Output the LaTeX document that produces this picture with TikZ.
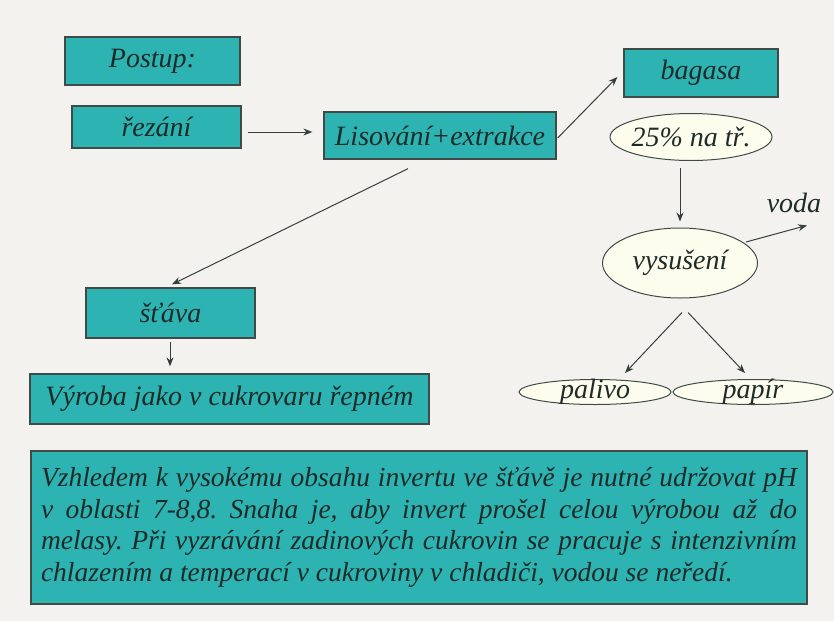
\documentclass[tikz,border=0pt]{standalone}
\usepackage{fontspec}
\setmainfont{Liberation Serif}[
  UprightFont={Liberation Serif},
  ItalicFont={Liberation Serif Italic},
  BoldFont={Liberation Serif Bold}]
\frenchspacing
\usetikzlibrary{shapes.geometric,arrows.meta,calc}
\definecolor{paper}{HTML}{F3F2EE}
\definecolor{teal}{HTML}{2DB3B1}
\definecolor{ink}{HTML}{1E2B28}
\definecolor{ivory}{HTML}{FDFDEE}
\newcommand{\lbl}{\rmfamily\itshape}
\tikzset{
  stepbox/.style={draw=ink!85, line width=1.3pt, fill=teal, text=ink, inner sep=0pt,
    font=\fontsize{28}{32}\selectfont\lbl},
  oval/.style={ellipse, draw=ink!85, line width=1pt, fill=ivory, inner sep=0pt},
  ovaltext/.style={text=ink, font=\fontsize{28}{32}\selectfont\lbl},
  flow/.style={draw=ink!90, line width=1pt, -{Stealth[length=9pt,width=7pt]}},
}
\begin{document}
\begin{tikzpicture}[x=1pt,y=-1pt]
  \useasboundingbox[fill=paper] (0,0) rectangle (834,621);

  % process boxes
  \node[stepbox, minimum width=175, minimum height=48] (postup) at (152.5,61) {Postup:};
  \node[stepbox, minimum width=169, minimum height=42] (rezani) at (156.5,127) {řezání};
  \node[stepbox, minimum width=232, minimum height=47] (lis) at (440,135.5) {Lisování+extrakce};
  \node[stepbox, minimum width=154, minimum height=48] (bagasa) at (701,73) {bagasa};
  \node[stepbox, minimum width=169, minimum height=50] (stava) at (170.5,313) {šťáva};
  \node[stepbox, minimum width=399, minimum height=50] (vyroba) at (229.5,399) {Výroba jako v cukrovaru řepném};

  % ovals
  \node[oval, minimum width=162, minimum height=47] (pct) at (691,137) {};
  \node[ovaltext] at (pct) {25\% na tř.};
  \node[oval, minimum width=155, minimum height=70] (vysus) at (680,263) {};
  \node[ovaltext] at (vysus) {vysušení};
  \node[oval, minimum width=152, minimum height=25] (palivo) at (595,392) {};
  \node[ovaltext] at (palivo) {palivo};
  \node[oval, minimum width=160, minimum height=25] (papir) at (753,392) {};
  \node[ovaltext] at (papir) {papír};

  \node[ovaltext] (voda) at (794,203) {voda};

  % note
  \node[stepbox, minimum width=776, minimum height=153, text width=756, align=justify,
        font=\fontsize{27.5}{31.7}\selectfont\lbl] (note) at (419,527.5)
  {Vzhledem k vysokému obsahu invertu ve šťávě je nutné udržovat pH\linebreak
   v oblasti 7-8,8. Snaha je, aby invert prošel celou výrobou až do\linebreak
   melasy. Při vyzrávání zadinových cukrovin se pracuje s intenzivním\linebreak
   chlazením a temperací v cukroviny v chladiči, vodou se neředí.};

  % connectors
  \draw[flow] ($(rezani.east)+(6,5)$) -- ($(lis.west)+(-11,-3.5)$);
  \draw[flow] ($(lis.east)+(1,2.5)$) -- ($(bagasa.west)+(-6,4)$);
  \draw[flow] ($(lis.south)+(-32,9)$) -- ($(stava.north)+(1.5,-3)$);
  \draw[flow] ($(stava.south)+(-0.5,3)$) -- ($(vyroba.north)+(-59.5,-7)$);
  \draw[flow] ($(pct.south)+(-11,6.5)$) -- ($(vysus.north)+(0,-6)$);
  \draw[flow] ($(vysus.east)+(-12,-21)$) -- ($(voda.south)+(13,9)$);
  \draw[flow] ($(vysus.south)+(2,14)$) -- ($(palivo.north)+(30,-6)$);
  \draw[flow] ($(vysus.south)+(8,14)$) -- ($(papir.north)+(-8,-6)$);
\end{tikzpicture}
\end{document}
